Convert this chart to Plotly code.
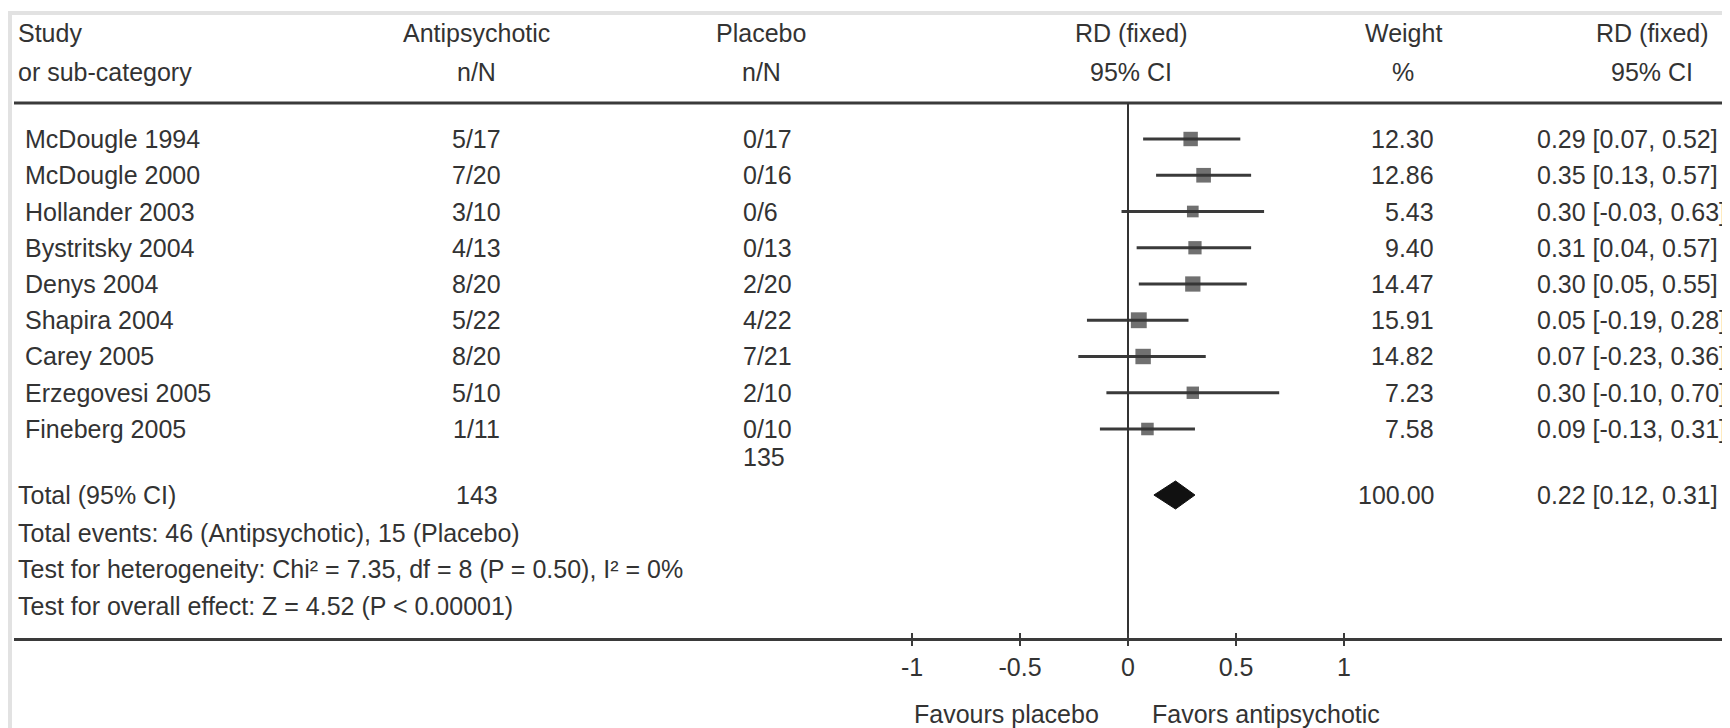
import plotly.graph_objects as go

SCREEN_W, SCREEN_H = 1730, 728
OFF = 8  # default page body margin
FW, FH = SCREEN_W - OFF, SCREEN_H - OFF

studies = ["McDougle 1994", "McDougle 2000", "Hollander 2003", "Bystritsky 2004", "Denys 2004",
           "Shapira 2004", "Carey 2005", "Erzegovesi 2005", "Fineberg 2005"]
antipsychotic = ["5/17", "7/20", "3/10", "4/13", "8/20", "5/22", "8/20", "5/10", "1/11"]
placebo = ["0/17", "0/16", "0/6", "0/13", "2/20", "4/22", "7/21", "2/10", "0/10"]
rd = [0.29, 0.35, 0.30, 0.31, 0.30, 0.05, 0.07, 0.30, 0.09]
lo = [0.07, 0.13, -0.03, 0.04, 0.05, -0.19, -0.23, -0.10, -0.13]
hi = [0.52, 0.57, 0.63, 0.57, 0.55, 0.28, 0.36, 0.70, 0.31]
weights = [12.30, 12.86, 5.43, 9.40, 14.47, 15.91, 14.82, 7.23, 7.58]

total_n_anti = "143"
total_n_plac = "135"
total_rd, total_lo, total_hi = 0.22, 0.12, 0.31
total_weight = 100.00
footer_lines = ["Total events: 46 (Antipsychotic), 15 (Placebo)",
                "Test for heterogeneity: Chi² = 7.35, df = 8 (P = 0.50), I² = 0%",
                "Test for overall effect: Z = 4.52 (P < 0.00001)"]
tick_vals = [-1, -0.5, 0, 0.5, 1]
tick_text = ["-1", "-0.5", "0", "0.5", "1"]

FONT = "Liberation Sans, Arial, sans-serif"
FS = 25
TXT = "#333333"
LINE = "#3a3a3a"

# screen-pixel geometry
X0_PX, UNIT_PX = 1128, 216
AX_LEFT_PX = 14
ROW0_PX, ROW_STEP = 139, 36.25
AXIS_PX = 638
TOP_LINE_PX = 103


def px(x):
    return (x - OFF) / FW


def py(y):
    return 1 - (y - OFF) / FH


def row_of(ypx):
    return (ypx - ROW0_PX) / ROW_STEP


fig = go.Figure()

for i in range(len(studies)):
    fig.add_trace(go.Scatter(x=[lo[i], hi[i]], y=[i, i], mode="lines",
                             line=dict(color=LINE, width=3), hoverinfo="skip", showlegend=False))
fig.add_trace(go.Scatter(x=rd, y=list(range(len(studies))), mode="markers",
                         marker=dict(symbol="square", color="#333333",
                                     size=[9.5 + 0.4 * w for w in weights], line=dict(width=0)),
                         showlegend=False, hoverinfo="skip"))
tr = row_of(495)
dh = 14 / ROW_STEP
fig.add_trace(go.Scatter(x=[total_lo, total_rd, total_hi, total_rd, total_lo],
                         y=[tr, tr - dh, tr, tr + dh, tr], mode="lines", fill="toself",
                         fillcolor="#111111", line=dict(color="#111111", width=1),
                         showlegend=False, hoverinfo="skip"))

ann = []


def txt(x, y, s, anchor="left"):
    ann.append(dict(x=px(x), y=py(y), xref="paper", yref="paper", text=s, showarrow=False,
                    xanchor=anchor, yanchor="middle", font=dict(family=FONT, size=FS, color=TXT)))


# headers
txt(16, 33, "Study")
txt(16, 72, "or sub-category")
txt(477, 33, "Antipsychotic", "center")
txt(477, 72, "n/N", "center")
txt(761, 33, "Placebo", "center")
txt(761, 72, "n/N", "center")
txt(1131, 33, "RD (fixed)", "center")
txt(1131, 72, "95% CI", "center")
txt(1403, 33, "Weight", "center")
txt(1403, 72, "%", "center")
txt(1652, 33, "RD (fixed)", "center")
txt(1652, 72, "95% CI", "center")

for i in range(len(studies)):
    ypx = ROW0_PX + i * ROW_STEP
    txt(23, ypx, studies[i])
    txt(477, ypx, antipsychotic[i], "center")
    txt(741, ypx, placebo[i])
    txt(1436, ypx, f"{weights[i]:.2f}", "right")
    txt(1535, ypx, f"{rd[i]:.2f} [{lo[i]:.2f}, {hi[i]:.2f}]")

txt(741, 457, total_n_plac)
txt(16, 495, "Total (95% CI)")
txt(477, 495, total_n_anti, "center")
txt(1436, 495, f"{total_weight:.2f}", "right")
txt(1535, 495, f"{total_rd:.2f} [{total_lo:.2f}, {total_hi:.2f}]")
for k, line in enumerate(footer_lines):
    txt(16, [533, 569, 606][k], line)

txt(1006, 714, "Favours placebo", "center")
txt(1266, 714, "Favors antipsychotic", "center")

shapes = [
    dict(type="rect", xref="paper", yref="paper", x0=px(10), x1=px(SCREEN_W + 10),
         y0=py(SCREEN_H + 10), y1=py(13), line=dict(color="#e2e2e2", width=4)),
    dict(type="line", xref="paper", yref="paper", x0=px(AX_LEFT_PX), x1=1,
         y0=py(TOP_LINE_PX), y1=py(TOP_LINE_PX), line=dict(color=LINE, width=3)),
    dict(type="line", xref="x", yref="paper", x0=0, x1=0, y0=py(AXIS_PX), y1=py(TOP_LINE_PX),
         line=dict(color="#333333", width=2)),
]
# upper half of the tick marks (ticks cross the axis line)
for tv in tick_vals:
    shapes.append(dict(type="line", xref="x", yref="paper", x0=tv, x1=tv,
                       y0=py(AXIS_PX), y1=py(AXIS_PX - 5), line=dict(color=LINE, width=2)))

fig.update_layout(
    width=FW, height=FH, margin=dict(l=0, r=0, t=0, b=0),
    paper_bgcolor="white", plot_bgcolor="white",
    annotations=ann, shapes=shapes, showlegend=False,
    xaxis=dict(domain=[px(AX_LEFT_PX), 1],
               range=[(AX_LEFT_PX - X0_PX) / UNIT_PX, (SCREEN_W - X0_PX) / UNIT_PX],
               showgrid=False, zeroline=False, showline=True, linewidth=3, linecolor=LINE,
               ticks="outside", ticklen=5, tickwidth=2, tickcolor=LINE,
               tickvals=tick_vals, ticktext=tick_text,
               tickfont=dict(family=FONT, size=FS, color=TXT), fixedrange=True),
    yaxis=dict(domain=[py(AXIS_PX), 1],
               range=[row_of(AXIS_PX), row_of(OFF)],
               showgrid=False, zeroline=False, showline=False, showticklabels=False,
               ticks="", fixedrange=True),
)

fig.write_html("out.html")
